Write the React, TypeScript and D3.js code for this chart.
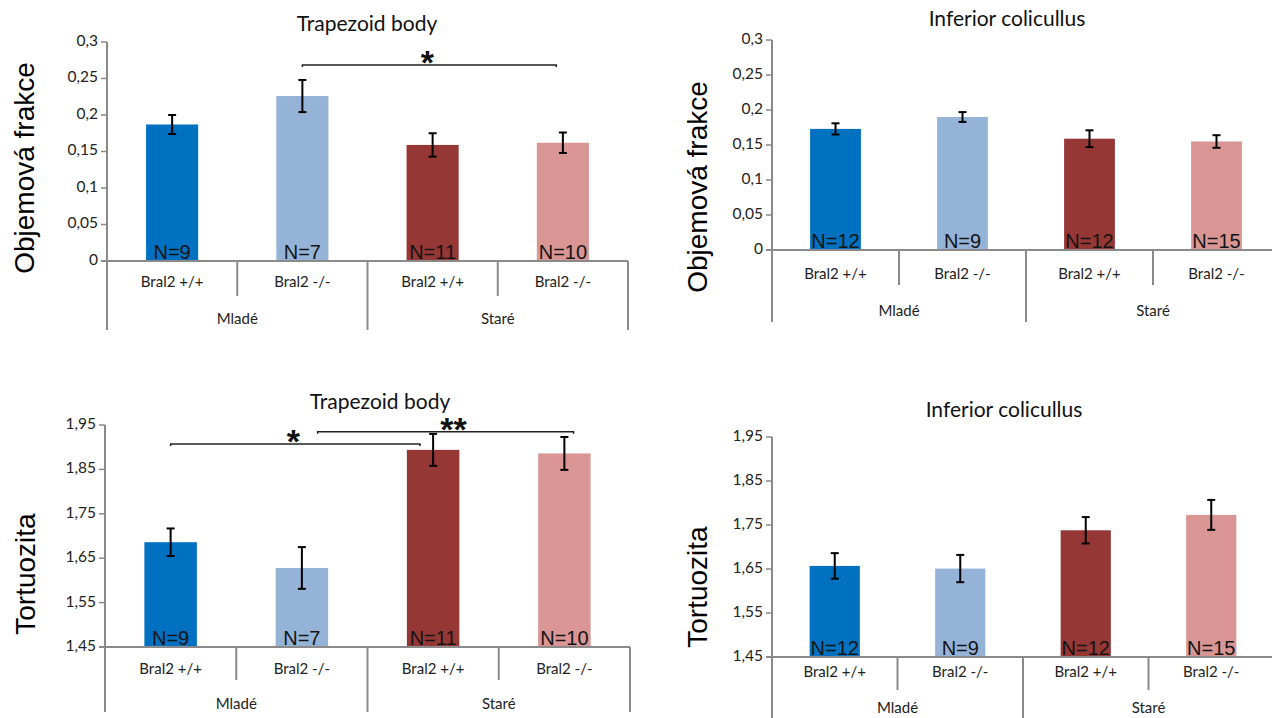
import React from "react";
import * as d3 from "d3";

// ---------- data ----------
const GROUPS = ["Mladé", "Staré"];
const GENOTYPES = ["Bral2 +/+", "Bral2 -/-", "Bral2 +/+", "Bral2 -/-"];
const BAR_COLORS = ["#0070c0", "#95b3d7", "#953735", "#d99694"];

const VOL_TICKS = [0, 0.05, 0.1, 0.15, 0.2, 0.25, 0.3];
const TORT_TICKS = [1.45, 1.55, 1.65, 1.75, 1.85, 1.95];

const TB_N = ["N=9", "N=7", "N=11", "N=10"];
const IC_N = ["N=12", "N=9", "N=12", "N=15"];

const TB_VOL_MEAN = [0.187, 0.226, 0.159, 0.162];
const TB_VOL_ERR = [0.013, 0.022, 0.016, 0.014];
const IC_VOL_MEAN = [0.173, 0.19, 0.159, 0.155];
const IC_VOL_ERR = [0.008, 0.007, 0.012, 0.009];
const TB_TORT_MEAN = [1.686, 1.628, 1.894, 1.886];
const TB_TORT_ERR = [0.031, 0.047, 0.036, 0.037];
const IC_TORT_MEAN = [1.657, 1.651, 1.738, 1.773];
const IC_TORT_ERR = [0.029, 0.031, 0.03, 0.034];

// significance brackets: from/to in category-index units, level in data units
const TB_VOL_SIG = [{ from: 1.0, to: 2.95, level: 0.2685, label: "*" }];
const TB_TORT_SIG = [
  { from: 0, to: 1.9, level: 1.907, label: "*" },
  { from: 1.12, to: 3.07, level: 1.935, label: "**" },
];

const TITLES = ["Trapezoid body", "Inferior colicullus"];
const Y_LABELS = ["Objemová frakce", "Tortuozita"];

// ---------- layout ----------
const panels = [
  {
    title: TITLES[0], yLabel: Y_LABELS[0], mean: TB_VOL_MEAN, err: TB_VOL_ERR, n: TB_N,
    ticks: VOL_TICKS, domain: [0, 0.3], sig: TB_VOL_SIG,
    x0: 107, x1: 628, yTop: 42, yBase: 261, divBottom: 296, groupBottom: 330,
    catY: 283, groupY: 320, titleX: 367, titleY: 26, ylabX: 27, ylabY: 168,
  },
  {
    title: TITLES[1], yLabel: Y_LABELS[0], mean: IC_VOL_MEAN, err: IC_VOL_ERR, n: IC_N,
    ticks: VOL_TICKS, domain: [0, 0.3], sig: [],
    x0: 772, x1: 1280, yTop: 40, yBase: 250, divBottom: 285, groupBottom: 322,
    catY: 275, groupY: 312, titleX: 1007, titleY: 21, ylabX: 700, ylabY: 187,
  },
  {
    title: TITLES[0], yLabel: Y_LABELS[1], mean: TB_TORT_MEAN, err: TB_TORT_ERR, n: TB_N,
    ticks: TORT_TICKS, domain: [1.45, 1.95], sig: TB_TORT_SIG,
    x0: 105, x1: 630, yTop: 425, yBase: 647, divBottom: 680, groupBottom: 712,
    catY: 670, groupY: 705, titleX: 380, titleY: 404, ylabX: 28, ylabY: 574,
  },
  {
    title: TITLES[1], yLabel: Y_LABELS[1], mean: IC_TORT_MEAN, err: IC_TORT_ERR, n: IC_N,
    ticks: TORT_TICKS, domain: [1.45, 1.95], sig: [],
    x0: 772, x1: 1274, yTop: 437, yBase: 657, divBottom: 690, groupBottom: 730,
    catY: 673, groupY: 709, titleX: 1004, titleY: 412, ylabX: 700, ylabY: 587,
  },
];

const AXIS = "#8a8a8a";
const CAL = "Lato, 'Open Sans', sans-serif";
const ARIAL = "'Liberation Sans', Arial, sans-serif";
const fmt = (v: number) => String(+v.toFixed(2)).replace(".", ",");

function Panel({ p }: { p: (typeof panels)[number] }) {
  const idx = GENOTYPES.map((_, i) => i);
  const x = d3.scaleBand<number>().domain(idx).range([p.x0, p.x1]).paddingInner(0.6).paddingOuter(0.3);
  const step = x.step();
  const y = d3.scaleLinear().domain(p.domain).range([p.yBase, p.yTop]);
  const cx = (u: number) => p.x0 + step * (u + 0.5);
  const base = p.domain[0];
  return (
    <g>
      <text x={p.titleX} y={p.titleY} textAnchor="middle" dominantBaseline="middle"
        fontFamily={CAL} fontSize={21} fill="#111">{p.title}</text>
      <text transform={`translate(${p.ylabX},${p.ylabY}) rotate(-90)`} textAnchor="middle"
        dominantBaseline="middle" fontFamily={ARIAL} fontSize={28} fill="#000">{p.yLabel}</text>
      {/* bars */}
      {idx.map((i) => (
        <rect key={"b" + i} x={x(i)} y={y(p.mean[i])} width={x.bandwidth()}
          height={y(base) - y(p.mean[i])} fill={BAR_COLORS[i]} />
      ))}
      {/* y axis */}
      <line x1={p.x0} x2={p.x0} y1={y(p.domain[1])} y2={p.groupBottom} stroke={AXIS} strokeWidth={2} />
      {p.ticks.map((t) => (
        <g key={"t" + t}>
          <line x1={p.x0 - 6} x2={p.x0} y1={y(t)} y2={y(t)} stroke={AXIS} strokeWidth={1.5} />
          <text x={p.x0 - 9} y={y(t)} textAnchor="end" dominantBaseline="middle"
            fontFamily={CAL} fontSize={15.5} fill="#222">{fmt(t)}</text>
        </g>
      ))}
      {/* x axis */}
      <line x1={p.x0 - 6} x2={p.x1} y1={y(base)} y2={y(base)} stroke={AXIS} strokeWidth={2} />
      {idx.map((i) => {
        const right = p.x0 + step * (i + 1);
        const isGroup = i % 2 === 1;
        return (
          <line key={"d" + i} x1={right} x2={right} y1={y(base)}
            y2={isGroup ? p.groupBottom : p.divBottom} stroke={AXIS} strokeWidth={2} />
        );
      })}
      {idx.map((i) => (
        <text key={"c" + i} x={cx(i)} y={p.catY} textAnchor="middle" dominantBaseline="middle"
          fontFamily={CAL} fontSize={15} fill="#222">{GENOTYPES[i]}</text>
      ))}
      {GROUPS.map((g, gi) => (
        <text key={"g" + gi} x={p.x0 + step * (gi * 2 + 1)} y={p.groupY} textAnchor="middle"
          dominantBaseline="middle" fontFamily={CAL} fontSize={15} fill="#222">{g}</text>
      ))}
      {/* N labels */}
      {idx.map((i) => (
        <text key={"n" + i} x={cx(i)} y={y(base) - 2} textAnchor="middle"
          fontFamily={ARIAL} fontSize={20} fill="#141414">{p.n[i]}</text>
      ))}
      {/* error bars */}
      {idx.map((i) => {
        const hi = y(p.mean[i] + p.err[i]);
        const lo = y(p.mean[i] - p.err[i]);
        const c = cx(i);
        return (
          <g key={"e" + i} stroke="#000" strokeWidth={2}>
            <line x1={c} x2={c} y1={hi} y2={lo} />
            <line x1={c - 4} x2={c + 4} y1={hi} y2={hi} />
            <line x1={c - 4} x2={c + 4} y1={lo} y2={lo} />
          </g>
        );
      })}
      {/* significance */}
      {p.sig.map((s, k) => {
        const a = cx(s.from);
        const b = cx(s.to);
        const ly = y(s.level);
        return (
          <g key={"s" + k}>
            <path d={`M${a},${ly + 2}V${ly}H${b}V${ly + 2}`} fill="none" stroke="#222" strokeWidth={1.5} />
            <text x={s.label === "**" ? (a + b) / 2 + 8 : (a + b) / 2 - 2} y={ly + 9}
              textAnchor="middle" fontFamily={ARIAL} fontWeight="bold" fontSize={34} fill="#111">{s.label}</text>
          </g>
        );
      })}
    </g>
  );
}

export default function App() {
  return (
    <svg width={1272} height={718} style={{ position: "fixed", left: 0, top: 0, background: "#fff" }}>
      <rect width={1272} height={718} fill="#fff" />
      {panels.map((p, i) => (
        <Panel key={i} p={p} />
      ))}
    </svg>
  );
}
